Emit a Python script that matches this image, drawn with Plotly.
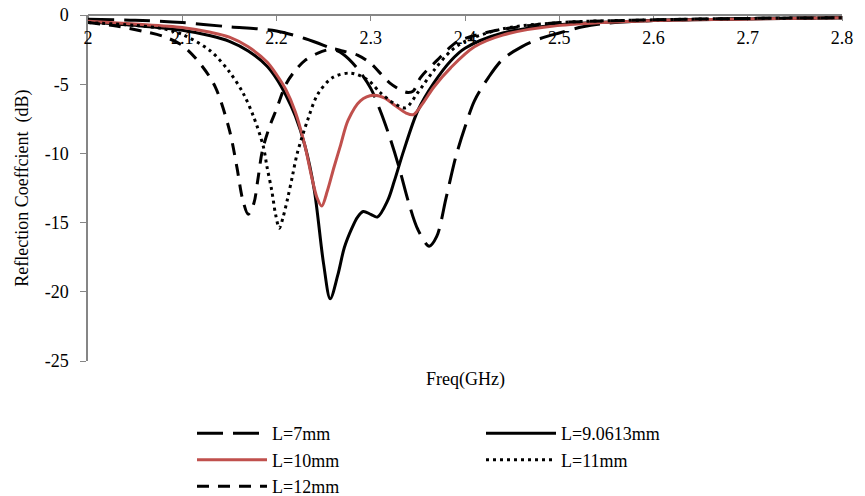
import plotly.graph_objects as go

# Reflection coefficient (dB) vs frequency (GHz) for several patch lengths L
f_7 = [2.00, 2.05, 2.10, 2.15, 2.18, 2.20, 2.23, 2.25, 2.27, 2.285, 2.30, 2.31, 2.32, 2.33, 2.34,
       2.35, 2.362, 2.37, 2.38, 2.39, 2.40, 2.41, 2.425, 2.44, 2.46, 2.48, 2.50, 2.525, 2.55, 2.60,
       2.70, 2.80]
s_7 = [-0.30, -0.38, -0.55, -0.85, -1.00, -1.15, -1.70, -2.20, -2.80, -3.80, -5.30, -6.90, -8.80,
       -11.0, -13.5, -15.5, -16.7, -16.0, -13.2, -10.3, -8.1, -6.2, -4.5, -3.2, -2.3, -1.7, -1.3,
       -0.85, -0.60, -0.40, -0.25, -0.20]

f_906 = [2.00, 2.05, 2.10, 2.13, 2.15, 2.17, 2.19, 2.20, 2.21, 2.22, 2.23, 2.24, 2.25, 2.257, 2.265,
         2.272, 2.28, 2.286, 2.292, 2.30, 2.307, 2.318, 2.325, 2.335, 2.35, 2.367, 2.385, 2.40,
         2.44, 2.50, 2.60, 2.70, 2.80]
s_906 = [-0.50, -0.75, -1.10, -1.50, -1.90, -2.60, -3.70, -4.60, -5.80, -7.30, -9.40, -12.6, -18.0,
         -20.5, -18.8, -16.8, -15.4, -14.6, -14.2, -14.4, -14.6, -13.4, -12.0, -9.8, -6.9, -4.9,
         -3.3, -2.4, -1.3, -0.70, -0.40, -0.28, -0.20]

f_10 = [2.00, 2.05, 2.10, 2.13, 2.15, 2.17, 2.19, 2.20, 2.21, 2.22, 2.23, 2.237, 2.243, 2.248,
        2.254, 2.261, 2.268, 2.276, 2.289, 2.303, 2.315, 2.325, 2.338, 2.345, 2.355, 2.367, 2.385,
        2.41, 2.44, 2.50, 2.60, 2.70, 2.80]
s_10 = [-0.45, -0.65, -0.90, -1.25, -1.60, -2.30, -3.40, -4.30, -5.40, -7.00, -9.40, -11.6, -13.2,
        -13.8, -12.7, -11.0, -9.4, -7.6, -6.2, -5.8, -6.0, -6.5, -7.1, -7.2, -6.4, -5.2, -3.8,
        -2.3, -1.45, -0.75, -0.40, -0.28, -0.20]

f_11 = [2.00, 2.05, 2.08, 2.10, 2.13, 2.15, 2.165, 2.176, 2.186, 2.19, 2.195, 2.199, 2.203, 2.207,
        2.212, 2.217, 2.222, 2.233, 2.244, 2.26, 2.279, 2.297, 2.31, 2.325, 2.337, 2.35, 2.367,
        2.385, 2.40, 2.44, 2.50, 2.60, 2.70, 2.80]
s_11 = [-0.55, -0.75, -1.00, -1.40, -2.60, -4.10, -5.70, -7.40, -9.50, -11.0, -12.7, -14.4, -15.4,
        -14.6, -13.2, -11.6, -10.0, -7.6, -5.7, -4.5, -4.2, -4.7, -5.6, -6.4, -6.7, -5.6, -4.0,
        -2.6, -1.9, -1.0, -0.55, -0.35, -0.25, -0.20]

f_12 = [2.00, 2.03, 2.06, 2.08, 2.10, 2.12, 2.135, 2.15, 2.158, 2.164, 2.17, 2.176, 2.18, 2.185,
        2.193, 2.20, 2.21, 2.22, 2.23, 2.244, 2.26, 2.27, 2.286, 2.30, 2.31, 2.32, 2.334, 2.34,
        2.345, 2.353, 2.37, 2.39, 2.40, 2.43, 2.47, 2.50, 2.60, 2.70, 2.80]
s_12 = [-0.55, -0.80, -1.20, -1.55, -2.20, -3.60, -5.20, -8.30, -11.0, -13.3, -14.4, -13.6, -12.0,
        -9.8, -8.0, -6.8, -5.0, -4.0, -3.3, -2.75, -2.45, -2.6, -2.9, -3.5, -4.2, -4.9, -5.5, -5.6,
        -5.5, -4.5, -3.3, -2.0, -1.7, -1.15, -0.75, -0.55, -0.35, -0.25, -0.20]

x_ticks = [2.0, 2.1, 2.2, 2.3, 2.4, 2.5, 2.6, 2.7, 2.8]
x_ticktext = ["2", "2.1", "2.2", "2.3", "2.4", "2.5", "2.6", "2.7", "2.8"]
y_ticks = [0, -5, -10, -15, -20, -25]
y_ticktext = ["0", "-5", "-10", "-15", "-20", "-25"]

FONT = "Liberation Serif, Times New Roman, serif"
AXIS_GREY = "#868686"
W, H = 865, 496
ML, MR, MT, MB = 88, 23, 15, 135

series = [
    ("L=7mm", f_7, s_7, "black", "26px,10px"),
    ("L=9.0613mm", f_906, s_906, "black", "solid"),
    ("L=10mm", f_10, s_10, "#C0504D", "solid"),
    ("L=11mm", f_11, s_11, "black", "3px,4px"),
    ("L=12mm", f_12, s_12, "black", "12px,9px"),
]

fig = go.Figure()
for name, fx, sy, color, dash in series:
    fig.add_trace(go.Scatter(
        x=fx, y=sy, name=name, mode="lines",
        line=dict(color=color, width=3, dash=dash, shape="spline", smoothing=0.9),
    ))

fig.update_layout(
    width=W, height=H,
    margin=dict(l=ML, r=MR, t=MT, b=MB),
    paper_bgcolor="white", plot_bgcolor="white",
    font=dict(family=FONT, size=18, color="black"),
    showlegend=True,
    legend=dict(
        orientation="h", x=(192 - ML) / (W - ML - MR), xref="paper", xanchor="left",
        yref="container", y=0.163, yanchor="top",
        entrywidth=204, entrywidthmode="pixels", itemwidth=70,
        font=dict(family=FONT, size=18, color="black"),
        tracegroupgap=0, bgcolor="rgba(0,0,0,0)", borderwidth=0,
    ),
    xaxis=dict(
        range=[2, 2.8], anchor="free", position=1, side="bottom",
        tickvals=x_ticks, ticktext=x_ticktext,
        ticks="outside", ticklen=5, tickcolor=AXIS_GREY, ticklabelstandoff=2,
        showline=True, linecolor=AXIS_GREY, linewidth=1.5, showgrid=False, zeroline=False,
        tickfont=dict(family=FONT, size=18, color="black"), layer="below traces",
        automargin=False,
    ),
    yaxis=dict(
        range=[-25, 0], tickvals=y_ticks, ticktext=y_ticktext,
        ticks="outside", ticklen=6, tickcolor=AXIS_GREY, ticklabelstandoff=8,
        showline=True, linecolor=AXIS_GREY, linewidth=1.5, showgrid=False, zeroline=False,
        tickfont=dict(family=FONT, size=18, color="black"), layer="below traces",
        automargin=False,
    ),
    annotations=[
        dict(text="Freq(GHz)", xref="paper", yref="paper", x=0.5, y=-0.017,
             xanchor="center", yanchor="top", showarrow=False,
             font=dict(family=FONT, size=18, color="black")),
        dict(text="Reflection Coeffcient  (dB)", xref="paper", yref="paper",
             x=-0.088, y=0.5, xanchor="center", yanchor="middle", textangle=-90,
             showarrow=False, font=dict(family=FONT, size=18, color="black")),
    ],
)

fig.write_html("out.html")
